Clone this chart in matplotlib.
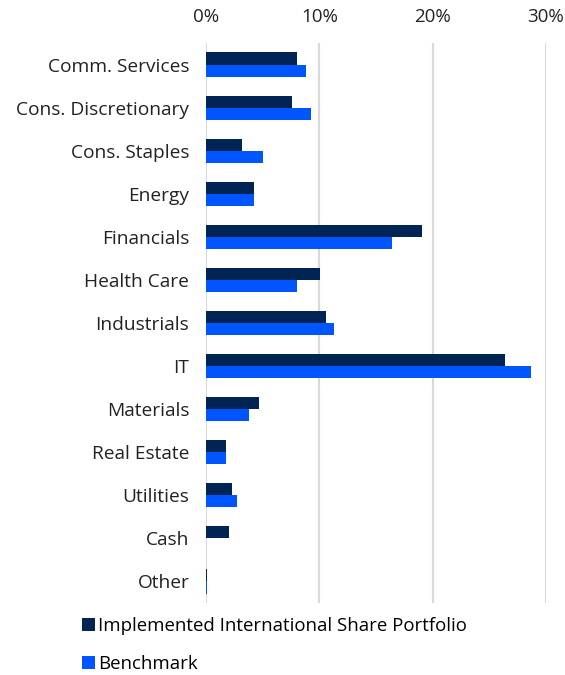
import numpy as np
import matplotlib
matplotlib.use("Agg")
import matplotlib.pyplot as plt
from matplotlib.ticker import FuncFormatter

# ---------------------------
# DATOS
# ---------------------------
sectores = ["Comm. Services", "Cons. Discretionary", "Cons. Staples", "Energy",
            "Financials", "Health Care", "Industrials", "IT", "Materials",
            "Real Estate", "Utilities", "Cash", "Other"]
portfolio = [8.0, 7.6, 3.2, 4.25, 19.1, 10.1, 10.6, 26.4, 4.7, 1.8, 2.25, 2.0, 0.05]
benchmark = [8.8, 9.3, 5.05, 4.2, 16.4, 8.05, 11.25, 28.65, 3.8, 1.75, 2.7, 0.0, 0.05]

etiquetas = ["Implemented International Share Portfolio", "Benchmark"]
colores = ["#002554", "#0055FF"]

# ---------------------------
# GRAFICO
# ---------------------------
plt.rcParams["font.family"] = ["Open Sans", "DejaVu Sans"]

fig = plt.figure(figsize=(5.65, 6.75), dpi=100)
ax = fig.add_axes([206 / 565, 1 - 603 / 675, 340 / 565, 560 / 675])

y = np.arange(len(sectores))
alto = 0.28
ax.barh(y - alto / 2, portfolio, height=alto, color=colores[0], label=etiquetas[0])
ax.barh(y + alto / 2, benchmark, height=alto, color=colores[1], label=etiquetas[1])

ax.set_ylim(len(sectores) - 0.5, -0.5)
ax.set_xlim(0, 30)
ax.set_yticks(y)
ax.set_yticklabels(sectores, fontsize=13.8, color="#222222")
ax.set_xticks([0, 10, 20, 30])
ax.xaxis.set_major_formatter(FuncFormatter(lambda v, p: f"{v:.0f}%"))
ax.xaxis.tick_top()
ax.tick_params(axis="x", length=0, pad=12, labelsize=13.5, labelcolor="#222222")
ax.tick_params(axis="y", length=0, pad=12)

for s in ax.spines.values():
    s.set_visible(False)
ax.grid(axis="x", color="#d9d9d9", linewidth=1.5)
ax.set_axisbelow(True)

fig.legend(loc="upper left", bbox_to_anchor=(75 / 565, 1 - 610 / 675),
           frameon=False, fontsize=13.4, handlelength=0.7, handleheight=0.7,
           handletextpad=0.15, labelspacing=1.05, borderaxespad=0)

plt.savefig("out.png", dpi=100)
